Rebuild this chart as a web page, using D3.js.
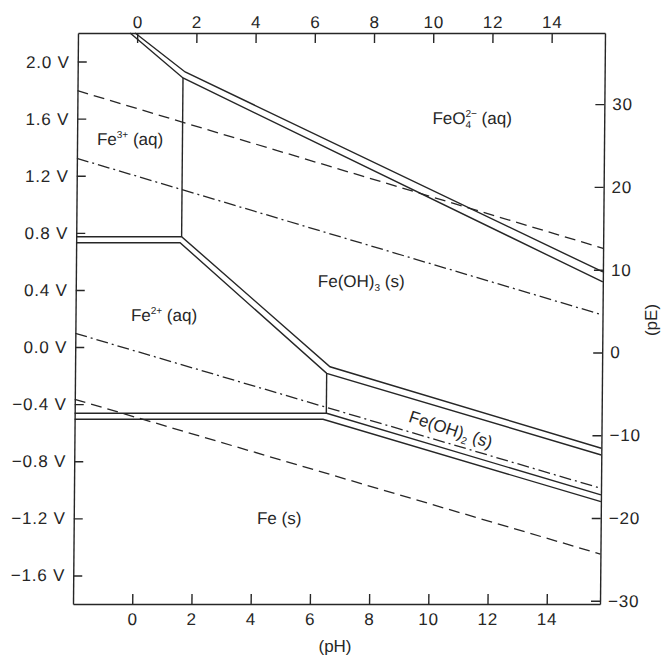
<!DOCTYPE html>
<html>
<head>
<meta charset="utf-8">
<script src="https://cdn.jsdelivr.net/npm/d3@7"></script>
<style>
  body { margin: 0; background: #fff; }
  svg { display: block; }
</style>
</head>
<body>
<div id="chart"></div>
<script>
// Axis ranges and ticks
var phDomain = [-2, 15.8];
var eDomain = [-1.8, 2.2];
var peDomain = [-30.4, 38.6];
var phTicks = [0, 2, 4, 6, 8, 10, 12, 14];
var eTicks = [-1.6, -1.2, -0.8, -0.4, 0.0, 0.4, 0.8, 1.2, 1.6, 2.0];
var peTicks = [-30, -20, -10, 0, 10, 20, 30];

// Phase boundaries, [pH, E in V] (double lines = two traces)
var feo4Upper = [[-0.07, 2.2], [1.63, 1.927], [15.8, 0.526]];
var feo4Lower = [[-0.24, 2.2], [1.56, 1.885], [15.8, 0.456]];
var fe3Fe2Upper = [[-2, 0.773], [1.56, 0.773], [6.61, -0.138], [15.8, -0.709]];
var fe3Fe2Lower = [[-2, 0.731], [1.51, 0.731], [6.50, -0.184], [15.8, -0.756]];
var fe2FeUpper = [[-2, -0.464], [6.51, -0.464], [15.8, -1.036]];
var fe2FeLower = [[-2, -0.506], [6.39, -0.506], [15.8, -1.083]];
var fe3Vertical = [[1.56, 1.885], [1.56, 0.773]];
var fe2Vertical = [[6.50, -0.184], [6.50, -0.464]];

// Water stability (dashed) and dash-dot lines
var waterUpper = [[-2, 1.796], [15.8, 0.692]];
var waterLower = [[-2, -0.366], [15.8, -1.450]];
var dashDotUpper = [[-2, 1.322], [15.8, 0.225]];
var dashDotLower = [[-2, 0.096], [15.8, -0.99]];

// Field labels: text parts ("n" normal, "sup", "sub") and anchor [pH, E]
var regionLabels = [
  { parts: [["Fe", "n"], ["3+", "sup"], [" (aq)", "n"]], at: [-0.21, 1.415], angle: 0 },
  { parts: [["Fe", "n"], ["2+", "sup"], [" (aq)", "n"]], at: [0.99, 0.183], angle: 0 },
  { parts: [["FeO", "n"], ["4", "sub"], ["2\u2212", "supstack"], [" (aq)", "n"]], at: [11.34, 1.563], angle: 0 },
  { parts: [["Fe(OH)", "n"], ["3", "sub"], [" (s)", "n"]], at: [7.64, 0.421], angle: 0 },
  { parts: [["Fe(OH)", "n"], ["2", "sub"], [" (s)", "n"]], at: [10.65, -0.616], angle: 18 },
  { parts: [["Fe (s)", "n"]], at: [4.94, -1.24], angle: 0 }
];

// Set Up Space
var svgWidth = 663;
var svgHeight = 656;
var margin = { top: 33, left: 78 };
var width = 527;
var height = 571;
var ink = "#262626";
var font = "'Liberation Sans', Arial, sans-serif";

var svg = d3.select("#chart")
  .append("svg")
  .attr("width", svgWidth)
  .attr("height", svgHeight)
  .style("background", "#fff");

// the printed figure is slightly sheared (left edge leans right at top)
var skew = Math.atan(-5 / height) * 180 / Math.PI;
var chartGroup = svg.append("g")
  .attr("transform", `translate(${margin.left}, ${margin.top}) skewX(${skew})`);

// Scaling
var xScale = d3.scaleLinear().domain(phDomain).range([0, width]);
var yScale = d3.scaleLinear().domain(eDomain).range([height, 0]);
var peScale = d3.scaleLinear().domain(peDomain).range([height, 0]);

// Axes
function styleAxis(g) {
  g.attr("font-size", 17).attr("font-family", font).attr("letter-spacing", 0.8);
  g.selectAll("path, line").attr("stroke", ink).attr("stroke-width", 1.4);
  g.selectAll("text").attr("fill", ink);
}

chartGroup.append("g")
  .attr("transform", `translate(0, ${height})`)
  .call(d3.axisBottom(xScale).tickValues(phTicks).tickSize(-10).tickSizeOuter(0).tickPadding(9))
  .call(styleAxis);

chartGroup.append("g")
  .call(d3.axisTop(xScale).tickValues(phTicks).tickSize(-10).tickSizeOuter(0).tickPadding(5))
  .call(styleAxis);

chartGroup.append("g")
  .call(d3.axisLeft(yScale).tickValues(eTicks).tickSize(-9).tickSizeOuter(0).tickPadding(8)
    .tickFormat(d => d3.format(".1f")(d) + " V"))
  .call(styleAxis);

chartGroup.append("g")
  .attr("transform", `translate(${width}, 0)`)
  .call(d3.axisRight(peScale).tickValues(peTicks).tickSize(-9).tickSizeOuter(0).tickPadding(8))
  .call(styleAxis);

// Lines
var line = d3.line()
  .x(d => xScale(d[0]))
  .y(d => yScale(d[1]));

var solid = [feo4Upper, feo4Lower, fe3Fe2Upper, fe3Fe2Lower, fe2FeUpper, fe2FeLower, fe3Vertical, fe2Vertical];
chartGroup.selectAll(".boundary")
  .data(solid)
  .enter()
  .append("path")
    .attr("class", "boundary")
    .attr("d", line)
    .attr("fill", "none")
    .attr("stroke", ink)
    .attr("stroke-width", 1.4)
    .attr("stroke-linejoin", "miter");

chartGroup.selectAll(".water")
  .data([waterUpper, waterLower])
  .enter()
  .append("path")
    .attr("class", "water")
    .attr("d", line)
    .attr("fill", "none")
    .attr("stroke", ink)
    .attr("stroke-width", 1.3)
    .attr("stroke-dasharray", "11,6");

chartGroup.selectAll(".dashdot")
  .data([dashDotUpper, dashDotLower])
  .enter()
  .append("path")
    .attr("class", "dashdot")
    .attr("d", line)
    .attr("fill", "none")
    .attr("stroke", ink)
    .attr("stroke-width", 1.3)
    .attr("stroke-dasharray", "12,4,2,4");

// Region labels
regionLabels.forEach(function(lab) {
  var px = xScale(lab.at[0]);
  var py = yScale(lab.at[1]);
  var t = chartGroup.append("text")
    .attr("transform", `translate(${px}, ${py}) rotate(${lab.angle})`)
    .attr("text-anchor", "middle")
    .attr("font-family", font)
    .attr("font-size", 17)
    .attr("fill", ink);
  var shift = 0;
  lab.parts.forEach(function(p) {
    var s = t.append("tspan").text(p[0]);
    if (p[1] === "sup") {
      s.attr("font-size", 10).attr("dy", -7 - shift); shift = -7;
    } else if (p[1] === "sub") {
      s.attr("font-size", 10).attr("dy", 4 - shift); shift = 4;
    } else if (p[1] === "supstack") {
      s.attr("font-size", 10).attr("dx", -5.6).attr("dy", -7 - shift); shift = -7;
    } else {
      s.attr("dy", -shift); shift = 0;
    }
  });
});

// Axis titles
svg.append("text")
  .attr("x", 335)
  .attr("y", 652)
  .attr("text-anchor", "middle")
  .attr("font-family", font)
  .attr("font-size", 17)
  .attr("fill", ink)
  .text("(pH)");

svg.append("text")
  .attr("transform", "translate(657, 320) rotate(-90)")
  .attr("text-anchor", "middle")
  .attr("font-family", font)
  .attr("font-size", 17)
  .attr("fill", ink)
  .text("(pE)");
</script>
</body>
</html>
